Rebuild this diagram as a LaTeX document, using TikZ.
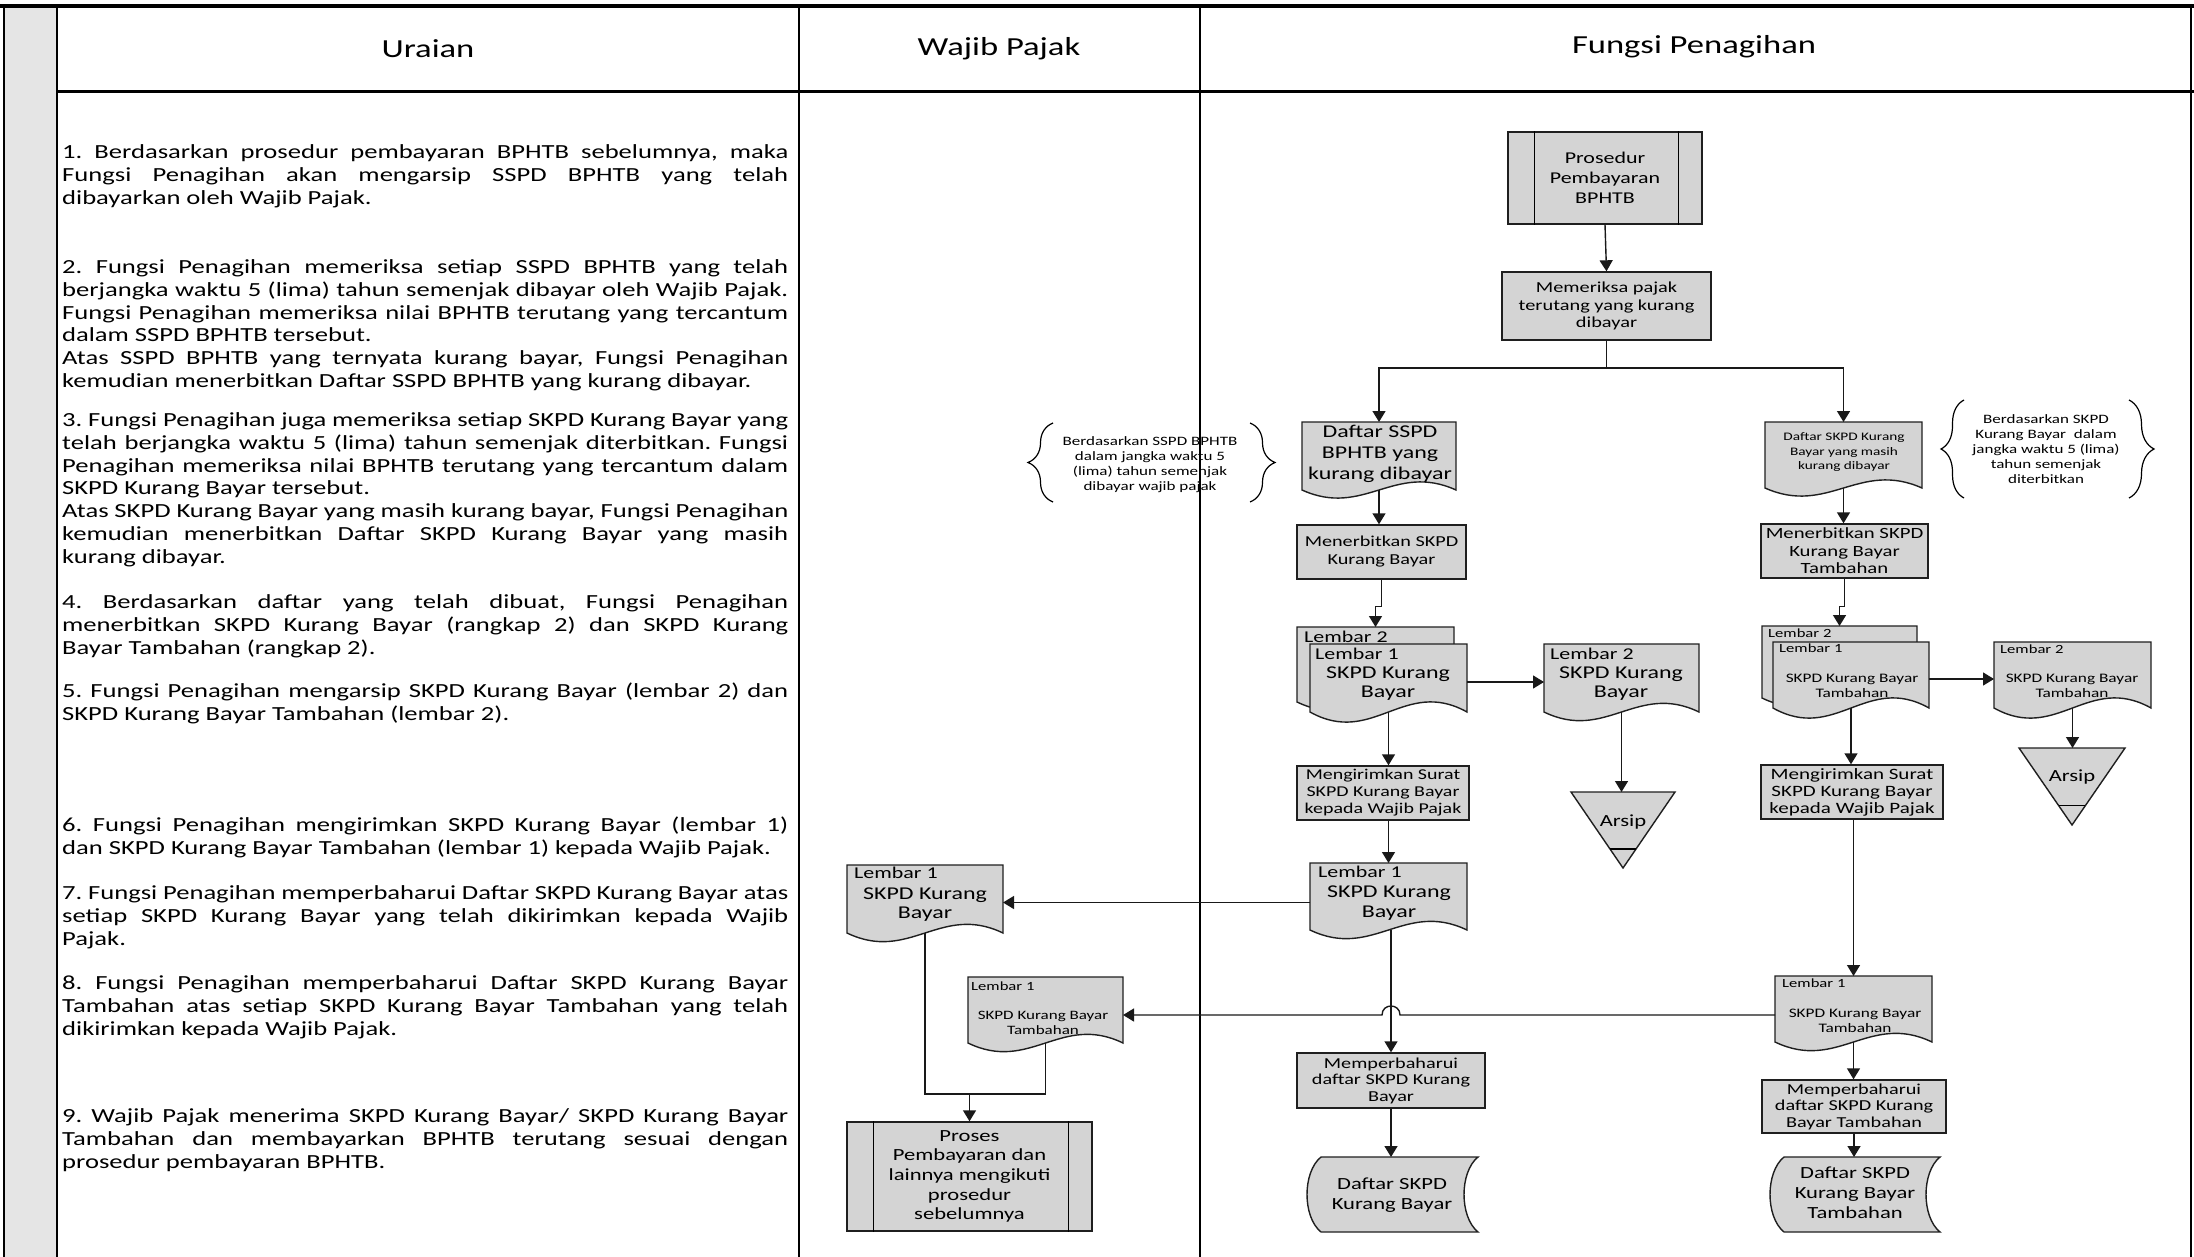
\documentclass[tikz,border=0pt]{standalone}
\usepackage{fontspec}
\setmainfont{Carlito}[FakeStretch=1.33]
\usetikzlibrary{arrows.meta,calc,decorations.pathreplacing}

\newcommand\fsz[2]{\fontsize{#1}{#2}\selectfont}
% settings for the justified description paragraphs
\newcommand\bodysetup{\fsz{20}{22.8}\frenchspacing\hyphenpenalty=10000\relax
  \tolerance=10000\relax\spaceskip=6pt plus 6pt minus 2.6pt\relax}
% invisible frame node spanning (x1,y1)-(x2,y2)
\newcommand\geo[5]{\node[inner sep=0pt,outer sep=0pt,minimum width={(#4-#2)*1pt},minimum height={(#5-#3)*1pt}] (#1) at ({(#2+#4)/2},{(#3+#5)/2}) {};}
% document symbol with wavy lower edge
\newcommand\docshape[2]{\path[flowfill] (#1.north west) -- (#1.north east) -- (#1.south east)
  .. controls ($(#1.south east)!0.4!(#1.south west)+(0,-#2)$) and ($(#1.south east)!0.6!(#1.south west)+(0,#2)$) .. (#1.south west) -- cycle;}
% stored data symbol
\newcommand\storeshape[2]{\path[flowfill] ($(#1.north west)+(#2,0)$) -- (#1.north east)
  .. controls ($(#1.north east)!0.2!(#1.south east)+({-4/3*#2},0)$) and ($(#1.north east)!0.8!(#1.south east)+({-4/3*#2},0)$) .. (#1.south east)
  -- ($(#1.south west)+(#2,0)$)
  .. controls ($(#1.south west)!0.2!(#1.north west)+({#2-4/3*#2},0)$) and ($(#1.south west)!0.8!(#1.north west)+({#2-4/3*#2},0)$) .. ($(#1.north west)+(#2,0)$) -- cycle;}
% archive (inverted triangle)
\newcommand\arsipshape[1]{\path[flowfill] (#1.north west) -- (#1.north east) -- (#1.south) -- cycle;
  \draw[line width=1.4pt] ($(#1.north west)!0.75!(#1.south)$) -- ($(#1.north east)!0.75!(#1.south)$);}
% side bars of a predefined process
\newcommand\predef[3]{\draw[line width=1.4pt] ($(#1.north west)+(#2,0)$) -- ($(#1.south west)+(#2,0)$)
  ($(#1.north east)+(-#3,0)$) -- ($(#1.south east)+(-#3,0)$);}

\tikzset{
  conn/.style={line width=1.4pt, draw=black!90},
  arr/.style={-{Triangle[length=11pt,width=13pt]}},
  flowfill/.style={draw=black!88, line width=1.4pt, fill=black!17},
  procbox/.style={flowfill, inner sep=0pt, align=center},
  para/.style={anchor=base west, inner sep=0pt, text width=726pt, align=justify, font=\bodysetup},
  hdr/.style={inner sep=0pt, font=\fsz{26}{30}},
  txt/.style={inner sep=0pt, align=center},
  lembar/.style={inner sep=0pt, anchor=west},
  bracel/.style={line width=1.2pt, decorate, decoration={brace, amplitude=25pt}},
}

\begin{document}
\begin{tikzpicture}[x=1pt,y=-1pt]
\useasboundingbox (0,0) rectangle (2194,1257);
\fill[white] (0,0) rectangle (2194,1257);
\fill[black!10] (4,6) rectangle (57,1257);

% table frame
\draw[line width=2pt] (4,6) -- (4,1257);
\draw[line width=1.6pt] (57,6) -- (57,1257);
\draw[line width=1.4pt] (799,6) -- (799,1257);
\draw[line width=1.4pt] (1200,6) -- (1200,1257);
\draw[line width=1.4pt] (2191,6) -- (2191,1257);
\draw[line width=3.5pt] (0,6) -- (2194,6);
\draw[line width=3pt] (57,92) -- (2194,92);

% column headings
\node[hdr] (h1) at (428,49) {Uraian};
\node[hdr] (h2) at (999,49) {Wajib Pajak};
\node[hdr] (h3) at (1694,47) {Fungsi Penagihan};

% description column
\node[para] (u1) at (62,158.5) {1. Berdasarkan prosedur pembayaran BPHTB sebelumnya, maka\linebreak Fungsi Penagihan akan mengarsip SSPD BPHTB yang telah\linebreak dibayarkan oleh Wajib Pajak.};
\node[para] (u2) at (62,273.5) {2. Fungsi Penagihan memeriksa setiap SSPD BPHTB yang telah\linebreak berjangka waktu 5 (lima) tahun semenjak dibayar oleh Wajib Pajak.\linebreak Fungsi Penagihan memeriksa nilai BPHTB terutang yang tercantum\linebreak dalam SSPD BPHTB tersebut.\newline Atas SSPD BPHTB yang ternyata kurang bayar, Fungsi Penagihan\linebreak kemudian menerbitkan Daftar SSPD BPHTB yang kurang dibayar.};
\node[para] (u3) at (62,426.5) {3. Fungsi Penagihan juga memeriksa setiap SKPD Kurang Bayar yang\linebreak telah berjangka waktu 5 (lima) tahun semenjak diterbitkan. Fungsi\linebreak Penagihan memeriksa nilai BPHTB terutang yang tercantum dalam\linebreak SKPD Kurang Bayar tersebut.\newline Atas SKPD Kurang Bayar yang masih kurang bayar, Fungsi Penagihan\linebreak kemudian menerbitkan Daftar SKPD Kurang Bayar yang masih\linebreak kurang dibayar.};
\node[para] (u4) at (62,608.5) {4. Berdasarkan daftar yang telah dibuat, Fungsi Penagihan\linebreak menerbitkan SKPD Kurang Bayar (rangkap 2) dan SKPD Kurang\linebreak Bayar Tambahan (rangkap 2).};
\node[para] (u5) at (62,697.5) {5. Fungsi Penagihan mengarsip SKPD Kurang Bayar (lembar 2) dan\linebreak SKPD Kurang Bayar Tambahan (lembar 2).};
\node[para] (u6) at (62,831.5) {6. Fungsi Penagihan mengirimkan SKPD Kurang Bayar (lembar 1)\linebreak dan SKPD Kurang Bayar Tambahan (lembar 1) kepada Wajib Pajak.};
\node[para] (u7) at (62,899.5) {7. Fungsi Penagihan memperbaharui Daftar SKPD Kurang Bayar atas\linebreak setiap SKPD Kurang Bayar yang telah dikirimkan kepada Wajib\linebreak Pajak.};
\node[para] (u8) at (62,989.5) {8. Fungsi Penagihan memperbaharui Daftar SKPD Kurang Bayar\linebreak Tambahan atas setiap SKPD Kurang Bayar Tambahan yang telah\linebreak dikirimkan kepada Wajib Pajak.};
\node[para] (u9) at (62,1122.5) {9. Wajib Pajak menerima SKPD Kurang Bayar/ SKPD Kurang Bayar\linebreak Tambahan dan membayarkan BPHTB terutang sesuai dengan\linebreak prosedur pembayaran BPHTB.};

% ---------- Fungsi Penagihan ----------
\node[procbox, minimum width=194pt, minimum height=92pt, font=\fsz{16.5}{20}] (P1) at (1605,178) {Prosedur\\Pembayaran\\BPHTB};
\predef{P1}{27}{24}
\node[procbox, minimum width=209pt, minimum height=68pt, font=\fsz{15.3}{17.5}] (B1) at (1606.5,306) {Memeriksa pajak\\terutang yang kurang\\dibayar};

\geo{D1}{1302}{422}{1456}{490}
\geo{D2}{1765}{422}{1922}{488}
\docshape{D1}{28}
\docshape{D2}{28}
\node[txt, font=\fsz{18}{21}] (D1t) at (1380,454) {Daftar SSPD\\BPHTB yang\\kurang dibayar};
\node[txt, font=\fsz{11.5}{14.5}] (D2t) at (1844,452.5) {Daftar SKPD Kurang\\Bayar yang masih\\kurang dibayar};

% notes in braces
\draw[bracel] (1053,502) -- (1053,423);
\draw[bracel] (1250,423) -- (1250,502);
\node[txt, font=\fsz{12.8}{15}] (n1) at (1150,464.5) {Berdasarkan SSPD BPHTB\\dalam jangka waktu 5\\(lima) tahun semenjak\\dibayar wajib pajak};
\draw[bracel, decoration={amplitude=23pt}] (1964,498) -- (1964,400);
\draw[bracel, decoration={amplitude=25pt}] (2129,400) -- (2129,498);
\node[txt, font=\fsz{12.8}{15}] (n2) at (2046,449) {Berdasarkan SKPD\\Kurang Bayar\ \ dalam\\jangka waktu 5 (lima)\\tahun semenjak\\diterbitkan};

\node[procbox, minimum width=169pt, minimum height=54pt, font=\fsz{15.2}{18}] (M1) at (1381.5,552) {Menerbitkan SKPD\\Kurang Bayar};
\node[procbox, minimum width=167pt, minimum height=54pt, font=\fsz{15.6}{17.5}] (M2) at (1844.5,551) {Menerbitkan SKPD\\Kurang Bayar\\Tambahan};

% two-copy stacks
\geo{S1b}{1297}{627}{1454}{702}
\geo{S1f}{1310}{644}{1467}{712}
\docshape{S1b}{30}
\docshape{S1f}{35}
\node[lembar, font=\fsz{16.5}{19}] (S1bt) at (1304,637) {Lembar 2};
\node[lembar, font=\fsz{16.5}{19}] (S1ft) at (1315,654) {Lembar 1};
\node[txt, font=\fsz{18}{19}] (S1t) at (1388,683.5) {SKPD Kurang\\Bayar};

\geo{L2a}{1544}{644}{1699}{712}
\docshape{L2a}{30}
\node[lembar, font=\fsz{16.5}{19}] (L2al) at (1550,654) {Lembar 2};
\node[txt, font=\fsz{18}{19}] (L2at) at (1621,683.5) {SKPD Kurang\\Bayar};

\geo{S2b}{1762}{626}{1917}{698}
\geo{S2f}{1773}{642}{1929}{708}
\docshape{S2b}{30}
\docshape{S2f}{35}
\node[lembar, font=\fsz{12.5}{15}] (S2bt) at (1768,633) {Lembar 2};
\node[lembar, font=\fsz{12.5}{15}] (S2ft) at (1779,648) {Lembar 1};
\node[txt, font=\fsz{13}{15}] (S2t) at (1852,685.5) {SKPD Kurang Bayar\\Tambahan};

\geo{L2b}{1994}{642}{2151}{708}
\docshape{L2b}{35}
\node[lembar, font=\fsz{12.5}{15}] (L2bl) at (2000,649) {Lembar 2};
\node[txt, font=\fsz{13}{15}] (L2bt) at (2072,686) {SKPD Kurang Bayar\\Tambahan};

% archives
\geo{Ar1}{1571}{792}{1675}{868}
\arsipshape{Ar1}
\node[txt, font=\fsz{17}{20}] (Ar1t) at (1623,822) {Arsip};
\geo{Ar2}{2019}{748}{2125}{825}
\arsipshape{Ar2}
\node[txt, font=\fsz{17}{20}] (Ar2t) at (2072,777) {Arsip};

\node[procbox, minimum width=172pt, minimum height=54pt, font=\fsz{15}{17}] (K1) at (1383,793) {Mengirimkan Surat\\SKPD Kurang Bayar\\kepada Wajib Pajak};
\node[procbox, minimum width=182pt, minimum height=54pt, font=\fsz{15.8}{17}] (K2) at (1852,792) {Mengirimkan Surat\\SKPD Kurang Bayar\\kepada Wajib Pajak};

\geo{L1a}{1310}{863}{1467}{930}
\docshape{L1a}{30}
\node[lembar, font=\fsz{16.5}{19}] (L1al) at (1318,872) {Lembar 1};
\node[txt, font=\fsz{18}{20}] (L1at) at (1389,903) {SKPD Kurang\\Bayar};

\geo{L1b}{1775}{976}{1932}{1042}
\docshape{L1b}{30}
\node[lembar, font=\fsz{12.5}{15}] (L1bl) at (1782,983) {Lembar 1};
\node[txt, font=\fsz{13}{15}] (L1bt) at (1855,1020.5) {SKPD Kurang Bayar\\Tambahan};

\node[procbox, minimum width=188pt, minimum height=55pt, font=\fsz{15.2}{16.5}] (Mp1) at (1391,1080.5) {Memperbaharui\\daftar SKPD Kurang\\Bayar};
\node[procbox, minimum width=184pt, minimum height=53pt, font=\fsz{15.2}{16.5}] (Mp2) at (1854,1106.5) {Memperbaharui\\daftar SKPD Kurang\\Bayar Tambahan};

\geo{DS1}{1307}{1157}{1478}{1232}
\storeshape{DS1}{14}
\node[txt, font=\fsz{17}{20}] (DS1t) at (1392,1195) {Daftar SKPD\\Kurang Bayar};
\geo{DS2}{1770}{1157}{1940}{1232}
\storeshape{DS2}{14}
\node[txt, font=\fsz{17}{20}] (DS2t) at (1855,1193) {Daftar SKPD\\Kurang Bayar\\Tambahan};

% ---------- Wajib Pajak ----------
\geo{W1}{847}{865}{1003}{933}
\docshape{W1}{30}
\node[lembar, font=\fsz{16.5}{19}] (W1l) at (854,873) {Lembar 1};
\node[txt, font=\fsz{18}{19}] (W1t) at (925,904.5) {SKPD Kurang\\Bayar};

\geo{W2}{968}{977}{1123}{1043}
\docshape{W2}{30}
\node[lembar, font=\fsz{12.5}{15}] (W2l) at (971,986) {Lembar 1};
\node[txt, font=\fsz{12.8}{15}] (W2t) at (1043,1022.5) {SKPD Kurang Bayar\\Tambahan};

\node[procbox, minimum width=245pt, minimum height=109pt, font=\fsz{17}{19.7}] (PP2) at (969.5,1176.5) {Proses\\Pembayaran dan\\lainnya mengikuti\\prosedur\\sebelumnya};
\predef{PP2}{27}{24}

% ---------- connectors ----------
\coordinate (J1) at (1606.5,368);
\coordinate (J2) at (969.5,1094);
\draw[conn,arr] (P1.south) -- (B1.north);
\draw[conn] (B1.south) -- (J1);
\draw[conn,arr] (J1) -| (D1.north);
\draw[conn,arr] (J1) -| (D2.north);
\draw[conn,arr] (D1.south) -- (D1.south |- M1.north);
\draw[conn,arr] (D2.south) -- (D2.south |- M2.north);
\draw[conn,arr] (M1.south) -- ++(0,27) -| (S1b.north);
\draw[conn,arr] (M2.south) -- ++(0,28) -| (S2b.north);
\draw[conn,arr] ([yshift=-4pt]S1f.east) -- ([yshift=-4pt]S1f.east -| L2a.west);
\draw[conn,arr] ([yshift=-4pt]S2f.east) -- ([yshift=-4pt]S2f.east -| L2b.west);
\draw[conn,arr] (L2a.south) -- (L2a.south |- Ar1.north);
\draw[conn,arr] (L2b.south) -- (L2b.south |- Ar2.north);
\draw[conn,arr] (S1f.south) -- (S1f.south |- K1.north);
\draw[conn,arr] (S2f.south) -- (S2f.south |- K2.north);
\draw[conn,arr] (L1a.north |- K1.south) -- (L1a.north);
\draw[conn,arr] (L1b.north |- K2.south) -- (L1b.north);
\draw[conn,arr] ([yshift=-6pt]L1a.west) -- ([yshift=-6pt]L1a.west -| W1.east);
\draw[conn,arr] (Mp1.north |- L1a.south) -- (Mp1.north);
\draw[conn,arr] (Mp1.south) -- (Mp1.south |- DS1.north);
\draw[conn,arr] (L1b.south) -- (L1b.south |- Mp2.north);
\draw[conn,arr] (Mp2.south) -- (Mp2.south |- DS2.north);
% line to the taxpayer, hopping over the crossing connector
\coordinate (hopR) at ($(Mp1.north |- L1b.west)+(9,6)$);
\coordinate (hopL) at ($(Mp1.north |- L1b.west)+(-9,6)$);
\draw[conn,arr] ([yshift=-6pt]L1b.west) -- (hopR) .. controls +(0,-12) and +(0,-12) .. (hopL) -- ([yshift=-6pt]L1b.west -| W2.east);
\draw[conn] (W1.south) |- (J2) -| (W2.south);
\draw[conn,arr] (J2) -- (PP2.north);
\end{tikzpicture}
\end{document}
